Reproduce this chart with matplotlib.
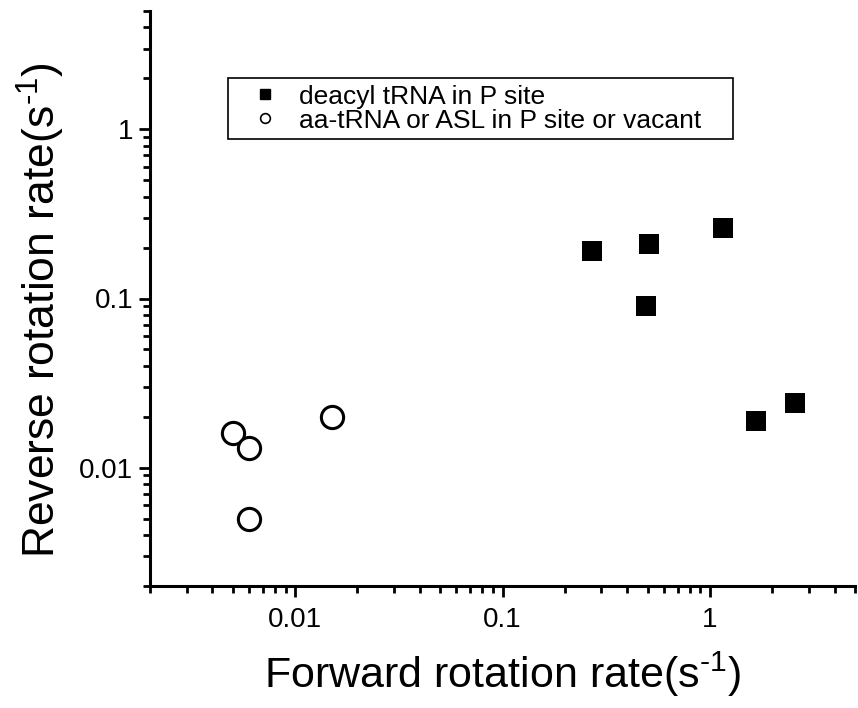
import matplotlib
matplotlib.use("Agg")
import matplotlib.pyplot as plt
from matplotlib.lines import Line2D
from matplotlib.ticker import LogLocator, FixedLocator, NullFormatter, FixedFormatter

plt.rcParams['font.family'] = ['Liberation Sans', 'DejaVu Sans']
plt.rcParams['mathtext.fontset'] = 'custom'
plt.rcParams['mathtext.rm'] = 'Liberation Sans'
plt.rcParams['mathtext.it'] = 'Liberation Sans:italic'
plt.rcParams['mathtext.bf'] = 'Liberation Sans:bold'

# Data
deacyl_fwd = [0.27, 0.51, 1.15, 0.49, 1.67, 2.56]
deacyl_rev = [0.19, 0.21, 0.26, 0.09, 0.019, 0.024]
aa_fwd = [0.005, 0.006, 0.015, 0.006]
aa_rev = [0.016, 0.013, 0.020, 0.005]

major_ticks = [0.01, 0.1, 1]
major_labels = ["0.01", "0.1", "1"]
legend_labels = ["deacyl tRNA in P site", "aa-tRNA or ASL in P site or vacant"]
xlabel = "Forward rotation rate(s$^{\\text{-1}}$)"
ylabel = "Reverse rotation rate(s$^{\\text{-1}}$)"

fig = plt.figure(figsize=(8.58, 7.08), dpi=100)
ax = fig.add_axes([150/858, 1-586/708, 705/858, 575/708])

ax.plot(deacyl_fwd, deacyl_rev, linestyle='none', marker='s', ms=15,
        mfc='black', mec='black', mew=0, clip_on=False)
ax.plot(aa_fwd, aa_rev, linestyle='none', marker='o', ms=16,
        mfc='white', mec='black', mew=2.2, clip_on=False)

ax.set_xscale('log')
ax.set_yscale('log')
ax.set_xlim(0.002, 5)
ax.set_ylim(0.002, 5)

for axis in (ax.xaxis, ax.yaxis):
    axis.set_major_locator(FixedLocator(major_ticks))
    axis.set_major_formatter(FixedFormatter(major_labels))
    axis.set_minor_locator(LogLocator(base=10, subs=range(2, 10), numticks=20))
    axis.set_minor_formatter(NullFormatter())

for side in ('top', 'right'):
    ax.spines[side].set_visible(False)
for side in ('left', 'bottom'):
    ax.spines[side].set_linewidth(2.2)

ax.tick_params(which='major', direction='out', length=8, width=2, labelsize=20)
ax.tick_params(which='minor', direction='out', length=5, width=2)
ax.tick_params(axis='x', which='major', pad=7)
ax.tick_params(axis='y', which='major', pad=4)

ax.set_xlabel(xlabel, fontsize=31, labelpad=12)
ax.set_ylabel(ylabel, fontsize=32)
ax.yaxis.set_label_coords((67-150)/705, (586-310)/575)

handles = [
    Line2D([], [], linestyle='none', marker='s', ms=7, mfc='black', mec='black'),
    Line2D([], [], linestyle='none', marker='o', ms=7, mfc='white', mec='black', mew=1.2),
]
x0 = (228-150)/705
x1 = (733-150)/705
ytop = (586-78)/575
ybot = (586-140)/575
leg = ax.legend(handles, legend_labels, loc='upper left',
                bbox_to_anchor=(x0, ybot, x1-x0, ytop-ybot), mode='expand',
                borderaxespad=0, fancybox=False, framealpha=1,
                edgecolor='black', fontsize=19, handlelength=2.3,
                handletextpad=0.15, labelspacing=0.0, borderpad=0.25)
leg.get_frame().set_linewidth(1.2)

fig.savefig("out.png", dpi=100)
